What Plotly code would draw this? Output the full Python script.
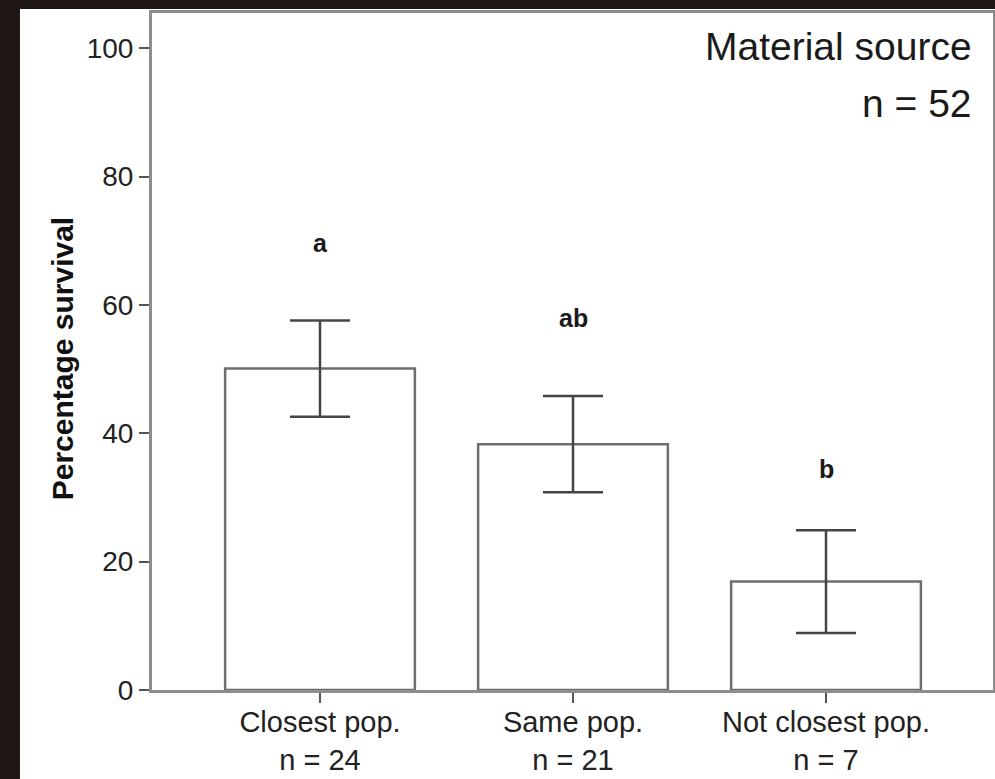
import plotly.graph_objects as go

# Survival by source of transplanted material
categories = ["Closest pop.", "Same pop.", "Not closest pop."]
group_n = [24, 21, 7]
survival_pct = [50.1, 38.3, 16.9]
survival_err = [7.5, 7.5, 8.0]
sig_letters = ["a", "ab", "b"]
total_n = 52

y_ticks = [0, 20, 40, 60, 80, 100]

tick_text = [f"{c}<br>n = {n}" for c, n in zip(categories, group_n)]
xpos = list(range(len(categories)))

FONT = "Liberation Sans, Arial, sans-serif"
AXIS_GREY = "#8d8d8d"

fig = go.Figure()
fig.add_trace(go.Bar(
    x=xpos,
    y=survival_pct,
    width=0.75,
    marker=dict(color="white", line=dict(color="#6e6e6e", width=2.5)),
    error_y=dict(type="data", array=survival_err, visible=True,
                 color="#454545", thickness=2.5, width=30),
    showlegend=False,
    hoverinfo="skip",
))

# significance letters above each bar
letter_y = [69.6, 57.9, 34.4]
for i, (lab, ly) in enumerate(zip(sig_letters, letter_y)):
    fig.add_annotation(x=xpos[i], y=ly, text=f"<b>{lab}</b>", showarrow=False,
                       xref="x", yref="y", font=dict(family=FONT, size=25, color="#1a1a1a"))

# panel heading
fig.add_annotation(x=0.978, y=0.95, xref="paper", yref="paper", text="Material source",
                   showarrow=False, xanchor="right", yanchor="middle",
                   font=dict(family=FONT, size=39, color="#1a1a1a"))
fig.add_annotation(x=0.978, y=0.867, xref="paper", yref="paper", text=f"n = {total_n}",
                   showarrow=False, xanchor="right", yanchor="middle",
                   font=dict(family=FONT, size=39, color="#1a1a1a"))

# y-axis title
fig.add_annotation(x=-0.107, y=0.49, xref="paper", yref="paper",
                   text="<b>Percentage survival</b>", textangle=-90, showarrow=False,
                   xanchor="center", yanchor="middle",
                   font=dict(family=FONT, size=30, color="#111111"))

# white card sitting on the dark backdrop
fig.add_shape(type="rect", xref="paper", yref="paper", x0=-0.157, x1=1.01, y0=-0.14, y1=1.006,
              fillcolor="white", line=dict(width=0), layer="below")

fig.update_xaxes(
    tickmode="array", tickvals=xpos, ticktext=tick_text,
    range=[-0.664, 2.66],
    showline=True, linecolor=AXIS_GREY, linewidth=3, mirror=True,
    ticks="outside", ticklen=10, tickwidth=2, tickcolor="#555555",
    ticklabelstandoff=-6,
    showgrid=False, zeroline=False,
    tickfont=dict(family=FONT, size=29, color="#222222"),
)
fig.update_yaxes(
    tickmode="array", tickvals=y_ticks,
    range=[0, 105.5],
    showline=True, linecolor=AXIS_GREY, linewidth=3, mirror=True,
    ticks="outside", ticklen=10, tickwidth=2, tickcolor="#555555",
    showgrid=False, zeroline=False,
    tickfont=dict(family=FONT, size=28, color="#222222"),
)

fig.update_layout(
    width=995, height=779,
    margin=dict(l=152, r=2, t=13, b=89, autoexpand=False),
    paper_bgcolor="#1e1613",
    plot_bgcolor="white",
)

fig.write_html("out.html")
